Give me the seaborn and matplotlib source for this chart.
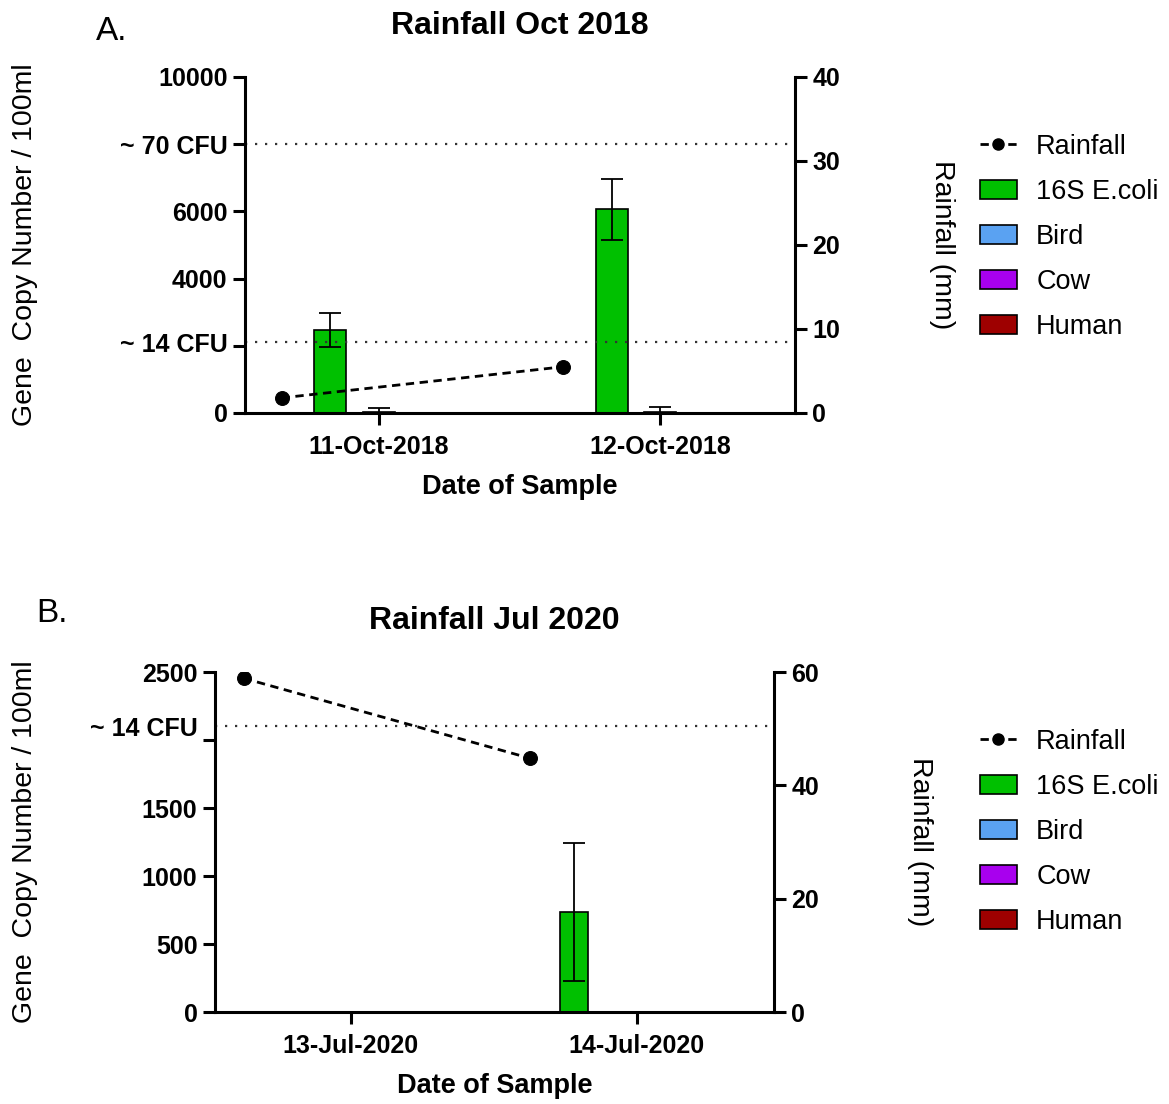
import numpy as np
import seaborn as sns
import matplotlib.pyplot as plt
from matplotlib.lines import Line2D
from matplotlib.patches import Patch

# ---- data ----
series = ['16S E.coli', 'Bird', 'Cow', 'Human']
colors = {'16S E.coli': '#00c000', 'Bird': '#5aa2f2', 'Cow': '#a800ee', 'Human': '#9e0000'}

dates_a = ['11-Oct-2018', '12-Oct-2018']
rain_a = [1.8, 5.5]
vals_a = {'16S E.coli': [2470, 6060], 'Bird': [15, 25], 'Cow': [0, 0], 'Human': [0, 0]}
errs_a = {'16S E.coli': [505, 905], 'Bird': [130, 150], 'Cow': [0, 0], 'Human': [0, 0]}

dates_b = ['13-Jul-2020', '14-Jul-2020']
rain_b = [58.9, 44.8]
vals_b = {'16S E.coli': [0, 735], 'Bird': [0, 0], 'Cow': [0, 0], 'Human': [0, 0]}
errs_b = {'16S E.coli': [0, 505], 'Bird': [0, 0], 'Cow': [0, 0], 'Human': [0, 0]}

cfu14 = 2100
cfu70 = 8000

sns.set_style('ticks')
plt.rcParams['font.family'] = ['Liberation Sans', 'DejaVu Sans']
for k in ['text.color', 'axes.labelcolor', 'xtick.color', 'ytick.color', 'axes.edgecolor']:
    plt.rcParams[k] = 'black'

fig = plt.figure(figsize=(11.69, 11.04), dpi=100)
W, H = 1169, 1104


def panel(rect, dates, rain, vals, errs, offsets, rain_off, bar_w, ymax, yticks, ylabels,
          cfu_ticks, cfu_labels, cfu_lines, rmax, rticks, title, lab_x, rlab_x):
    ax = fig.add_axes(rect)
    base = np.arange(len(dates))
    for s, off in zip(series, offsets):
        pos = base + off
        sns.barplot(x=pos, y=vals[s], ax=ax, native_scale=True, orient='v', width=bar_w,
                    color=colors[s], saturation=1, edgecolor='black', linewidth=1.2,
                    errorbar=None)
        if max(errs[s]) > 0:
            ax.errorbar(pos, vals[s], yerr=errs[s], fmt='none', ecolor='black',
                        elinewidth=1.3, capsize=8, capthick=1.3, zorder=3)
    for y in cfu_lines:
        ax.axhline(y, color='#333333', lw=1.6, dashes=(1, 3.5), zorder=1)

    ax.yaxis.remove_overlapping_locs = False
    ax.set_xlim(-0.475, 1.48)
    ax.set_ylim(0, ymax)
    ax.set_xticks(base, dates)
    ax.set_yticks(yticks, ylabels)
    ax.set_yticks(cfu_ticks, cfu_labels, minor=True)
    ax.tick_params(which='major', length=8.6, width=2.2, labelsize=18, pad=4)
    ax.tick_params(axis='x', pad=7, labelsize=18)
    ax.tick_params(which='minor', length=0, labelsize=18, pad=12.6)
    for t in ax.get_xticklabels() + ax.get_yticklabels() + ax.get_yticklabels(minor=True):
        t.set_fontweight('bold')
    ax.set_xlabel('Date of Sample', fontsize=19.5, fontweight='bold', labelpad=11)
    ax.set_ylabel('Gene  Copy Number / 100ml', fontsize=20.5, va='center')
    ax.yaxis.set_label_coords(lab_x, 0.5)
    ax.set_title(title, fontsize=23, fontweight='bold', pad=31)
    for sp in ['left', 'bottom']:
        ax.spines[sp].set_linewidth(2.2)
    ax.spines['top'].set_visible(False)
    ax.spines['right'].set_visible(False)

    ax2 = ax.twinx()
    sns.lineplot(x=base + rain_off, y=rain, ax=ax2, color='black', lw=2, marker='o',
                 markersize=10, markeredgecolor='black', dashes=False, linestyle=(0, (3, 2)))
    ax2.set_ylim(0, rmax)
    ax2.set_yticks(rticks)
    ax2.tick_params(length=8.6, width=2.2, labelsize=18, pad=4)
    for t in ax2.get_yticklabels():
        t.set_fontweight('bold')
    ax2.set_ylabel('Rainfall (mm)', fontsize=20.5, rotation=270, va='center')
    ax2.yaxis.set_label_coords(rlab_x, 0.5)
    for sp in ['top', 'left', 'bottom']:
        ax2.spines[sp].set_visible(False)
    ax2.spines['right'].set_linewidth(2.2)
    ax.set_xlim(-0.475, 1.48)
    return ax


ax_a = panel([245 / W, 1 - 413 / H, 550 / W, 336 / H], dates_a, rain_a, vals_a, errs_a,
             [-0.172, 0.0, 0.177, 0.355], -0.345, 0.114, 10000,
             [0, 2000, 4000, 6000, 8000, 10000], ['0', '', '4000', '6000', '', '10000'],
             [cfu14, cfu70], ['~ 14 CFU', '~ 70 CFU'], [cfu14, cfu70],
             40, [0, 10, 20, 30, 40], 'Rainfall Oct 2018', -0.40, 1.267)

ax_b = panel([215 / W, 1 - 1012 / H, 559 / W, 340 / H], dates_b, rain_b, vals_b, errs_b,
             [-0.22, -0.07, 0.08, 0.23], -0.375, 0.098, 2500,
             [0, 500, 1000, 1500, 2000, 2500], ['0', '500', '1000', '1500', '', '2500'],
             [cfu14], ['~ 14 CFU'], [cfu14],
             60, [0, 20, 40, 60], 'Rainfall Jul 2020', -0.34, 1.261)

handles = [Line2D([], [], color='black', lw=2, linestyle=(0, (3, 2)), marker='o', markersize=8)]
handles += [Patch(facecolor=colors[s], edgecolor='black', lw=1.2) for s in series]
labels = ['Rainfall'] + series
for top in [123, 718]:
    fig.legend(handles, labels, loc='upper left', bbox_to_anchor=(969 / W, 1 - top / H),
               frameon=False, fontsize=19.5, labelspacing=0.7, handlelength=1.36,
               handletextpad=0.72, borderaxespad=0)

fig.text(112 / W, 1 - 32 / H, 'A.', fontsize=24, ha='center', va='center')
fig.text(52 / W, 1 - 614 / H, 'B.', fontsize=24, ha='center', va='center')

fig.savefig('out.png', dpi=100)
